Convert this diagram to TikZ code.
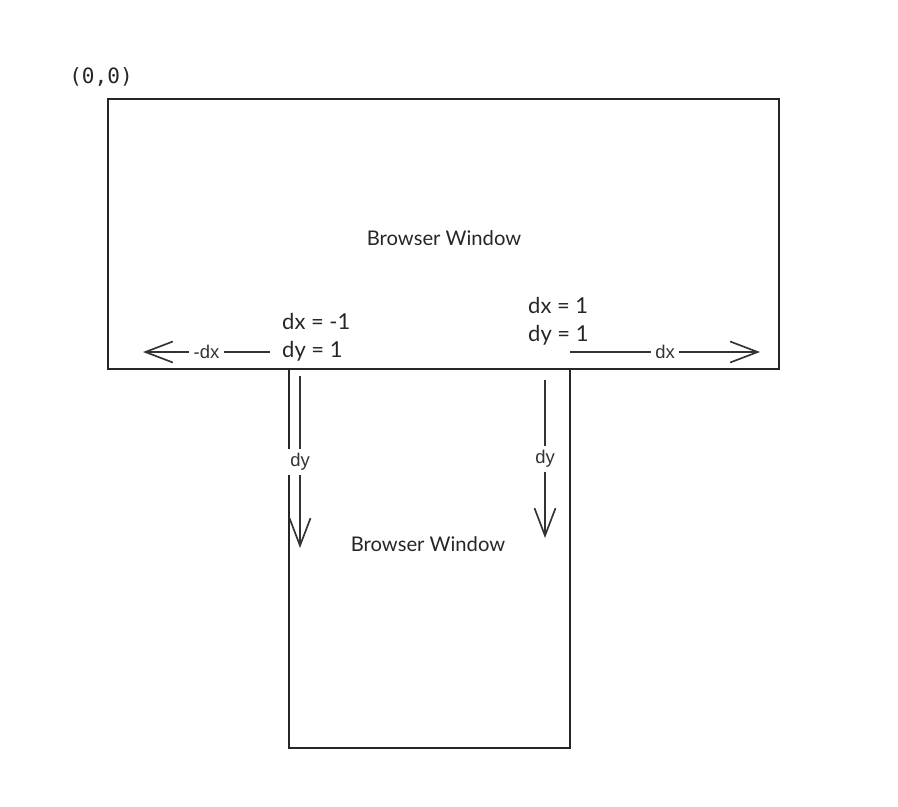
\documentclass[tikz,border=0pt]{standalone}
\usepackage{fontspec}
\setmainfont{Lato}
\setsansfont{Liberation Sans}
\setmonofont{DejaVu Sans Mono}
\usetikzlibrary{arrows.meta,positioning}

\tikzset{
  win/.style={draw=black!85,line width=1.2pt,inner sep=0pt},
  hand/.style={font=\fontsize{11.5}{14}\selectfont,text=black!85},
  move/.style={draw=black!80,line width=0.95pt,-{Straight Barb[length=5.5mm,width=4.2mm,line width=0.95pt]}},
  lbl/.style={fill=white,font=\sffamily\fontsize{10.5}{12}\selectfont,text=black!80,inner sep=2.5pt}
}

\begin{document}
\begin{tikzpicture}[x=0.02cm,y=-0.02cm]
\useasboundingbox (0,0) rectangle (898,806);
\node[font=\ttfamily\fontsize{12}{14}\selectfont,text=black!85] (origin) at (101,77) {(0,0)};
\node[win,minimum width=13.42cm,minimum height=5.4cm] (top_win) at (443.5,234) {};
\node[win,minimum width=5.62cm,minimum height=7.58cm] (low_win) at (429.5,558.5) {};
\node[hand] (top_txt) at (444,238) {Browser Window};
\node[hand] (low_txt) at (428,544) {Browser Window};
\node[hand,align=left,anchor=north west,font=\fontsize{12.5}{16}\selectfont] (left_val) at (276,307) {dx = -1\\dy = 1};
\node[hand,align=left,anchor=north west,font=\fontsize{12.5}{16}\selectfont] (right_val) at (522,291) {dx = 1\\dy = 1};
% free ends of the moves
\coordinate (lx_a) at (270,352);
\coordinate (lx_b) at (143,352);
\coordinate (rx_a) at (570,352);
\coordinate (rx_b) at (760,352);
\coordinate (ly_a) at (300,376);
\coordinate (ly_b) at (300,548);
\coordinate (ry_a) at (545,380);
\coordinate (ry_b) at (545,538);
\draw[move] (lx_a)--node[lbl]{-dx}(lx_b);
\draw[move] (rx_a)--node[lbl]{dx}(rx_b);
\draw[move] (ly_a)--node[lbl]{dy}(ly_b);
\draw[move] (ry_a)--node[lbl]{dy}(ry_b);
\end{tikzpicture}
\end{document}
